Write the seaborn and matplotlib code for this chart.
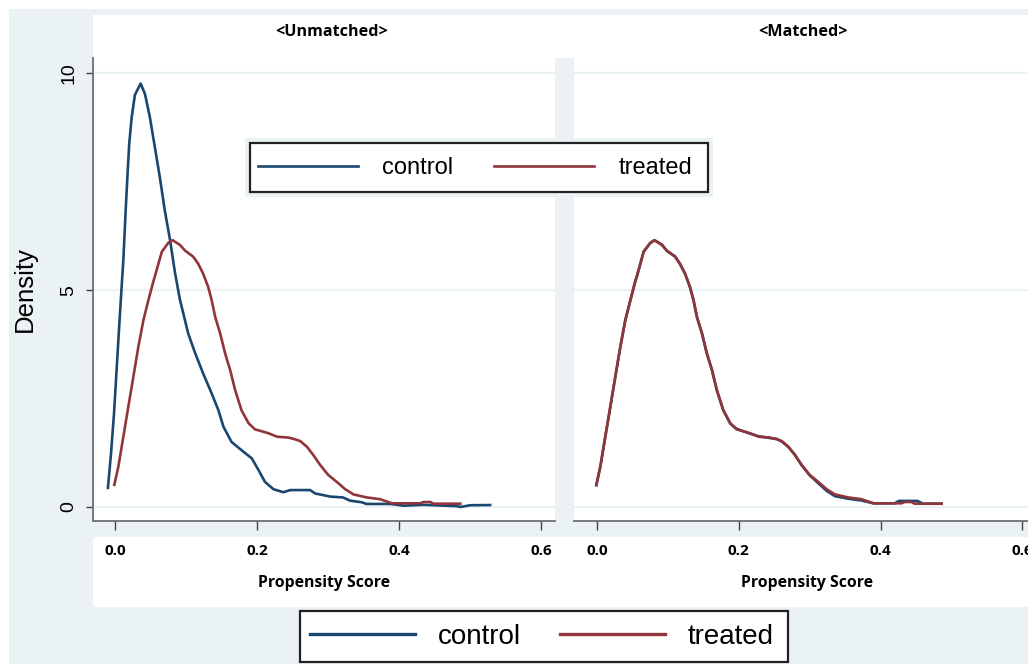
import matplotlib
matplotlib.use("Agg")
import matplotlib.pyplot as plt
from matplotlib.patches import Rectangle
from matplotlib.lines import Line2D
import seaborn as sns
import pandas as pd

# ---------------- data ----------------
groups = ["control", "treated"]
panels = ["<Unmatched>", "<Matched>"]
x_ticks = [0.0, 0.2, 0.4, 0.6]
x_tick_labels = ["0.0", "0.2", "0.4", "0.6"]
y_ticks = [0, 5, 10]
y_tick_labels = ["0", "5", "10"]

ctrl_unm_x = [-0.010, -0.0056, -0.0014, 0.0028, 0.006, 0.0094, 0.0117, 0.015, 0.0174, 0.020,
              0.0235, 0.028, 0.036, 0.042, 0.049, 0.056, 0.063, 0.070, 0.0775, 0.0845,
              0.0915, 0.096, 0.103, 0.1127, 0.124, 0.136, 0.1455, 0.1526, 0.164, 0.178,
              0.1925, 0.202, 0.211, 0.223, 0.237, 0.2465, 0.2746, 0.282, 0.303, 0.321,
              0.331, 0.347, 0.354, 0.387, 0.406, 0.434, 0.481, 0.486, 0.500, 0.528]
ctrl_unm_y = [0.44, 1.24, 2.16, 3.32, 4.20, 5.10, 5.69, 6.84, 7.61, 8.38,
              8.99, 9.50, 9.76, 9.53, 8.99, 8.30, 7.61, 6.84, 6.15, 5.39,
              4.77, 4.47, 4.00, 3.55, 3.08, 2.62, 2.23, 1.85, 1.50, 1.31,
              1.12, 0.85, 0.58, 0.41, 0.34, 0.39, 0.39, 0.31, 0.24, 0.22,
              0.145, 0.11, 0.07, 0.07, 0.03, 0.05, 0.02, 0.00, 0.04, 0.045]

treat_x = [-0.001, 0.0047, 0.0117, 0.0187, 0.0258, 0.0328, 0.040, 0.047, 0.054, 0.0563,
           0.0658, 0.075, 0.081, 0.0915, 0.0986, 0.110, 0.117, 0.124, 0.131, 0.136,
           0.141, 0.148, 0.155, 0.162, 0.169, 0.178, 0.188, 0.197, 0.216, 0.228,
           0.244, 0.2535, 0.2606, 0.270, 0.279, 0.2887, 0.300, 0.312, 0.324, 0.3356,
           0.3545, 0.373, 0.390, 0.4296, 0.434, 0.4437, 0.448, 0.486]
treat_y = [0.51, 0.93, 1.62, 2.31, 3.00, 3.69, 4.31, 4.77, 5.20, 5.33,
           5.88, 6.09, 6.15, 6.04, 5.91, 5.77, 5.61, 5.38, 5.08, 4.77,
           4.38, 4.00, 3.54, 3.16, 2.70, 2.23, 1.93, 1.79, 1.70, 1.62,
           1.60, 1.56, 1.52, 1.39, 1.20, 0.97, 0.74, 0.58, 0.41, 0.29,
           0.22, 0.18, 0.085, 0.085, 0.115, 0.115, 0.076, 0.076]

ctrl_mat_x = [-0.001, 0.0047, 0.0117, 0.0187, 0.0258, 0.0328, 0.040, 0.047, 0.054, 0.0563,
              0.0658, 0.075, 0.081, 0.0915, 0.0986, 0.110, 0.117, 0.124, 0.131, 0.136,
              0.141, 0.148, 0.155, 0.162, 0.169, 0.178, 0.188, 0.197, 0.216, 0.228,
              0.244, 0.2535, 0.2606, 0.270, 0.279, 0.2887, 0.300, 0.312, 0.324, 0.3356,
              0.3545, 0.373, 0.390, 0.420, 0.426, 0.452, 0.460, 0.486]
ctrl_mat_y = [0.50, 0.94, 1.63, 2.30, 3.01, 3.68, 4.32, 4.76, 5.21, 5.32,
              5.89, 6.08, 6.15, 6.05, 5.90, 5.78, 5.60, 5.39, 5.07, 4.78,
              4.37, 4.01, 3.53, 3.17, 2.69, 2.24, 1.92, 1.80, 1.69, 1.63,
              1.59, 1.57, 1.51, 1.38, 1.21, 0.96, 0.73, 0.55, 0.37, 0.25,
              0.19, 0.15, 0.085, 0.085, 0.14, 0.14, 0.076, 0.076]

BLUE = "#1a476f"
RED = "#90353b"
BG = "#eaf2f3"

# ---------------- layout helpers (pixel coords, origin top-left) ----------------
W, H = 1028, 664
fig = plt.figure(figsize=(W / 100, H / 100), dpi=100)
fig.patch.set_facecolor("white")


def fx(px):
    return px / W


def fy(py):
    return 1 - py / H


def rect(x0, y0, x1, y1, fc, ec="none", lw=0, z=-5):
    r = Rectangle((fx(x0), fy(y1)), (x1 - x0) / W, (y1 - y0) / H,
                  transform=fig.transFigure, facecolor=fc, edgecolor=ec,
                  linewidth=lw, zorder=z)
    fig.add_artist(r)


rect(9, 9, W, H, BG)
rect(93, 15, W, 58, "white")
rect(93, 537, W, 607, "white")

REG = ["Liberation Sans", "DejaVu Sans"]
BOLD = ["Open Sans", "DejaVu Sans"]

ax1 = fig.add_axes([fx(93), fy(521), 462 / W, 463 / H])
ax2 = fig.add_axes([fx(574), fy(521), 454 / W, 463 / H])

frames = []
for gname, xs, ys in [("control", ctrl_unm_x, ctrl_unm_y), ("treated", treat_x, treat_y)]:
    frames.append(pd.DataFrame({"x": xs, "y": ys, "group": gname, "panel": panels[0]}))
for gname, xs, ys in [("control", ctrl_mat_x, ctrl_mat_y), ("treated", treat_x, treat_y)]:
    frames.append(pd.DataFrame({"x": xs, "y": ys, "group": gname, "panel": panels[1]}))
df = pd.concat(frames, ignore_index=True)

palette = {"control": BLUE, "treated": RED}
for ax, pname, xlim, title_x, xlab_x in [
        (ax1, panels[0], (-0.031, 0.6193), (332 - 93) / 462, 0.5),
        (ax2, panels[1], (-0.0325, 0.608), (803 - 574) / 454, (807 - 574) / 454)]:
    sub = df[df["panel"] == pname]
    sns.lineplot(data=sub, x="x", y="y", hue="group", palette=palette,
                 hue_order=groups, sort=False, estimator=None, ax=ax,
                 linewidth=1.9, legend=False)
    ax.set_facecolor("white")
    ax.set_xlim(*xlim)
    ax.set_ylim(-0.323, 10.35)
    ax.set_yticks(y_ticks)
    ax.yaxis.grid(True, color=BG, linewidth=1.6)
    ax.xaxis.grid(False)
    ax.set_axisbelow(True)
    for s in ["top", "right"]:
        ax.spines[s].set_visible(False)
    ax.spines["bottom"].set_color("#6e6e6e")
    ax.spines["bottom"].set_linewidth(1.3)
    ax.set_xticks(x_ticks, x_tick_labels, fontweight="bold", family=BOLD, fontsize=11)
    ax.tick_params(axis="x", length=6.5, width=1.0, color="#444444", pad=10, direction="out")
    ax.set_xlabel("Propensity Score", fontweight="bold", family=BOLD, fontsize=11.3)
    ax.xaxis.set_label_coords(xlab_x, (521 - 583) / 463)
    ax.xaxis.label.set_va("center")
    ax.set_title(pname, fontweight="bold", family=BOLD, fontsize=11.6,
                 x=title_x, y=(521 - 32) / 463, va="center", pad=0)

ax1.spines["left"].set_color("#6e6e6e")
ax1.spines["left"].set_linewidth(1.3)
ax1.set_yticks(y_ticks, y_tick_labels, rotation=90, va="center", family=REG, fontsize=14)
ax1.tick_params(axis="y", length=5, width=1.0, color="#444444", pad=6)
ax1.set_ylabel("Density", family=REG, fontsize=18.5)
ax1.yaxis.set_label_coords((25 - 93) / 462, 0.5)
ax1.yaxis.label.set_va("center")

ax2.spines["left"].set_visible(False)
ax2.tick_params(axis="y", length=0, labelleft=False)
ax2.set_ylabel("")

handles = [Line2D([], [], color=BLUE, lw=1.9), Line2D([], [], color=RED, lw=1.9)]

# inner legend (with light ring)
rect(245, 138, 713, 197, BG, z=3)
rect(250, 143, 708, 192, "white", ec="#222222", lw=1.6, z=4)
fig.legend(handles, groups, loc="center", bbox_to_anchor=(fx(475), fy(168)),
           ncol=2, frameon=False, prop={"family": REG, "size": 17},
           handlelength=4.24, handletextpad=1.05, columnspacing=1.7)

# bottom legend
handles2 = [Line2D([], [], color=BLUE, lw=2.4), Line2D([], [], color=RED, lw=2.4)]
rect(300, 611, 788, 662, "white", ec="#222222", lw=1.6, z=4)
fig.legend(handles2, groups, loc="center", bbox_to_anchor=(fx(542), fy(636.5)),
           ncol=2, frameon=False, prop={"family": REG, "size": 20},
           handlelength=3.78, handletextpad=0.83, columnspacing=1.4)

fig.savefig("out.png", dpi=100)
